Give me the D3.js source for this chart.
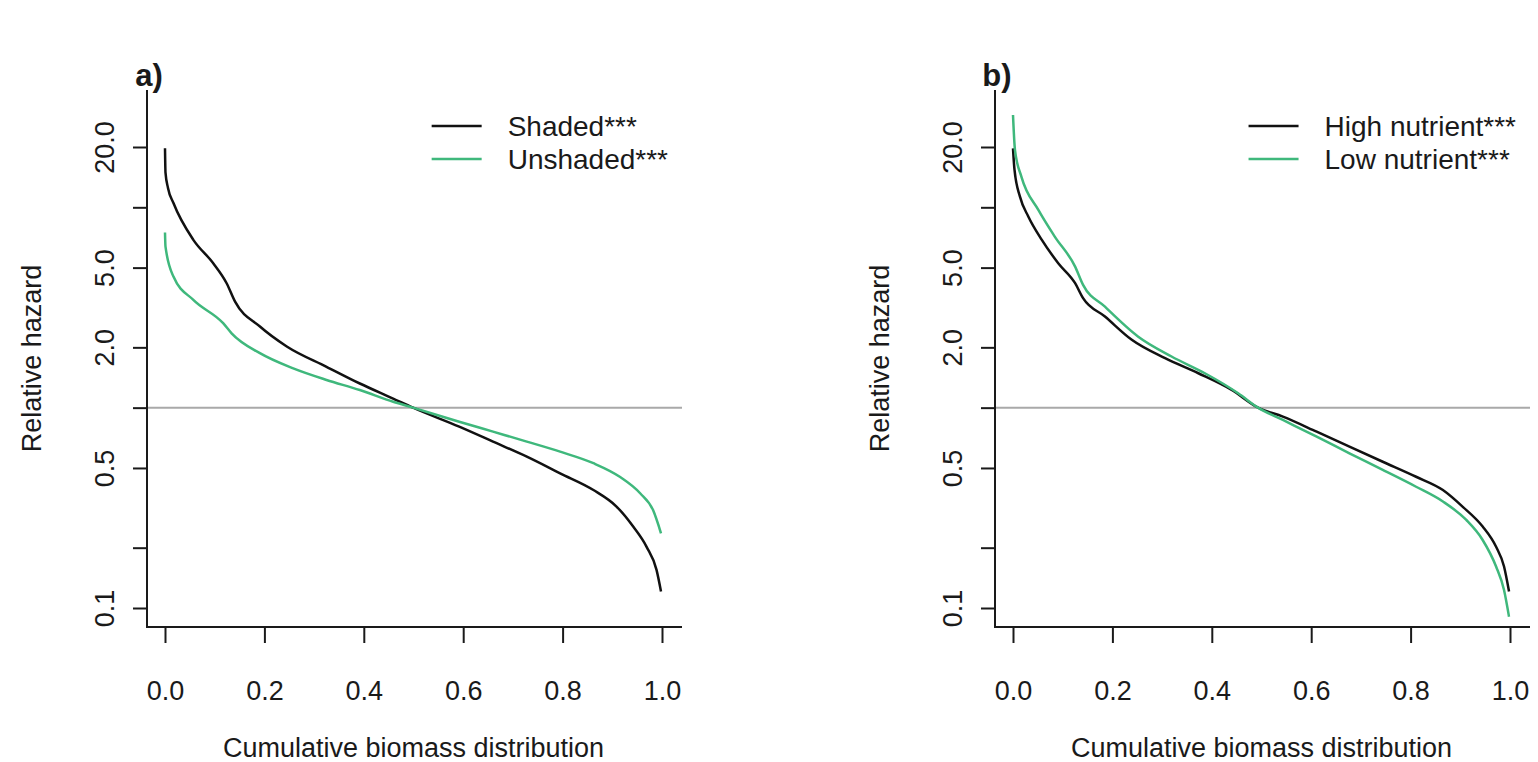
<html>

<head>
    <script src="https://d3js.org/d3.v7.min.js"></script>
    <style>
        body { margin: 0; background: white; }
        text { font-family: "Liberation Sans", Arial, sans-serif; fill: #1a1a1a; }
    </style>
</head>

<body>
    <svg id="svg" width="1538" height="762"></svg>
    <script>
        // values (x = cumulative biomass, hr = relative hazard)
        const shadedX = [0, 0.001, 0.006, 0.017, 0.057, 0.097, 0.124, 0.141, 0.191, 0.245, 0.325, 0.392, 0.459, 0.499, 0.592, 0.660, 0.728, 0.795, 0.862, 0.909, 0.942, 0.969, 0.989, 0.998]
        const shadedHR = [19.7, 14.9, 12.5, 10.5, 6.88, 5.26, 4.18, 3.38, 2.54, 2.02, 1.60, 1.32, 1.11, 1.0, 0.804, 0.677, 0.569, 0.470, 0.388, 0.320, 0.255, 0.202, 0.155, 0.121]
        const unshadedX = [0, 0.001, 0.017, 0.057, 0.117, 0.134, 0.191, 0.258, 0.325, 0.392, 0.459, 0.499, 0.592, 0.660, 0.728, 0.795, 0.862, 0.915, 0.956, 0.982, 0.998]
        const unshadedHR = [7.48, 6.36, 4.51, 3.45, 2.64, 2.35, 1.87, 1.57, 1.375, 1.225, 1.07, 1.0, 0.851, 0.759, 0.677, 0.603, 0.528, 0.452, 0.374, 0.308, 0.236]
        const highX = [0, 0.003, 0.014, 0.031, 0.058, 0.091, 0.125, 0.141, 0.185, 0.239, 0.306, 0.373, 0.440, 0.493, 0.543, 0.611, 0.677, 0.744, 0.811, 0.865, 0.905, 0.945, 0.972, 0.988, 0.998]
        const highHR = [19.7, 15.4, 11.3, 8.98, 6.88, 5.26, 4.18, 3.52, 2.85, 2.18, 1.765, 1.485, 1.226, 1.0, 0.902, 0.759, 0.639, 0.537, 0.452, 0.388, 0.320, 0.255, 0.202, 0.161, 0.121]
        const lowX = [0, 0.004, 0.017, 0.051, 0.084, 0.125, 0.141, 0.185, 0.252, 0.319, 0.386, 0.453, 0.493, 0.543, 0.611, 0.677, 0.744, 0.811, 0.865, 0.912, 0.945, 0.972, 0.988, 0.998]
        const lowHR = [28.9, 19.3, 14.2, 9.70, 7.14, 5.06, 4.10, 3.19, 2.26, 1.80, 1.485, 1.18, 1.0, 0.868, 0.716, 0.592, 0.489, 0.403, 0.340, 0.275, 0.2185, 0.161, 0.123, 0.0905]

        const xTicks = [0, 0.2, 0.4, 0.6, 0.8, 1.0]
        const yTicks = [0.1, 0.2, 0.5, 1, 2, 5, 10, 20]
        const yTickLabels = ["0.1", "", "0.5", "", "2.0", "5.0", "", "20.0"]
        const panelTitles = ["a)", "b)"]
        const legendLabels = [["Shaded***", "Unshaded***"], ["High nutrient***", "Low nutrient***"]]
        const green = "#3fb87c"

        const panels = [
            { dx: 0, series: [[shadedX, shadedHR], [unshadedX, unshadedHR]] },
            { dx: 848, series: [[highX, highHR], [lowX, lowHR]] }
        ]

        const svg = d3.select("#svg")
        const font = "'Liberation Sans', Arial, sans-serif"
        // plot region (R style): box left/bottom
        const boxLeft = 147, boxRight = 682, boxTop = 90, boxBottom = 627

        panels.forEach((p, pi) => {
            const g = svg.append("g").attr("transform", `translate(${p.dx},0)`)
            const x = d3.scaleLinear().domain([0, 1]).range([165, 662])
            const y = d3.scaleLog().domain([0.1, 20]).range([608, 147])

            // reference line at 1
            g.append("line")
                .attr("x1", boxLeft).attr("x2", boxRight)
                .attr("y1", y(1)).attr("y2", y(1))
                .attr("stroke", "#a9a9a9").attr("stroke-width", 2)

            // L box
            g.append("path")
                .attr("d", `M${boxLeft},${boxTop}V${boxBottom}H${boxRight}`)
                .attr("fill", "none").attr("stroke", "#1a1a1a").attr("stroke-width", 2)

            // x axis
            g.append("g").attr("transform", `translate(0,${boxBottom})`)
                .call(d3.axisBottom(x).tickValues(xTicks).tickFormat(d3.format(".1f")).tickSize(16).tickSizeOuter(0))
                .call(a => a.select(".domain").remove())
                .call(a => a.selectAll("line").attr("stroke", "#1a1a1a").attr("stroke-width", 2))
                .call(a => a.selectAll("text").attr("y", 73).attr("dy", null)
                    .style("font-size", "27px").style("font-family", font).attr("fill", "#1a1a1a"))

            // y axis
            g.append("g").attr("transform", `translate(${boxLeft},0)`)
                .call(d3.axisLeft(y).tickValues(yTicks).tickFormat((d, i) => yTickLabels[i]).tickSize(14).tickSizeOuter(0))
                .call(a => a.select(".domain").remove())
                .call(a => a.selectAll("line").attr("stroke", "#1a1a1a").attr("stroke-width", 2))
                .call(a => a.selectAll("text")
                    .attr("x", 0).attr("y", -33).attr("dy", null)
                    .attr("transform", "rotate(-90)")
                    .attr("text-anchor", "middle")
                    .style("font-size", "27px").style("font-family", font).attr("fill", "#1a1a1a"))

            // curves
            const line = d3.line().x(d => x(d[0])).y(d => y(d[1])).curve(d3.curveMonotoneX)
            p.series.forEach((s, si) => {
                const pts = s[0].map((v, i) => [v, s[1][i]])
                g.append("path").datum(pts)
                    .attr("d", line)
                    .attr("fill", "none")
                    .attr("stroke", si === 0 ? "#111" : green)
                    .attr("stroke-width", 2.5)
                    .attr("stroke-linejoin", "round")
            })

            // titles
            g.append("text").attr("x", 149).attr("y", 86)
                .attr("text-anchor", "middle")
                .style("font-size", "31px").style("font-weight", "bold")
                .text(panelTitles[pi])
            g.append("text").attr("x", (x(0) + x(1)) / 2).attr("y", 757)
                .attr("text-anchor", "middle").style("font-size", "27px")
                .text("Cumulative biomass distribution")
            g.append("text").attr("transform", `translate(41,${(boxTop + boxBottom) / 2}) rotate(-90)`)
                .attr("text-anchor", "middle").style("font-size", "27px")
                .text("Relative hazard")

            // legend (top right, no box)
            const leg = g.append("g")
            const labels = legendLabels[pi]
            const texts = leg.selectAll("text").data(labels).join("text")
                .attr("y", (_, i) => 126 + i * 33)
                .attr("dy", "0.35em")
                .style("font-size", "28px")
                .text(d => d)
            const w = d3.max(texts.nodes(), n => n.getComputedTextLength())
            const tx = boxRight - 14 - w
            texts.attr("x", tx)
            leg.selectAll("line").data(labels).join("line")
                .attr("x1", tx - 76).attr("x2", tx - 26)
                .attr("y1", (_, i) => 126 + i * 33).attr("y2", (_, i) => 126 + i * 33)
                .attr("stroke", (_, i) => i === 0 ? "#111" : green)
                .attr("stroke-width", 2.5)
        })
    </script>
</body>

</html>
